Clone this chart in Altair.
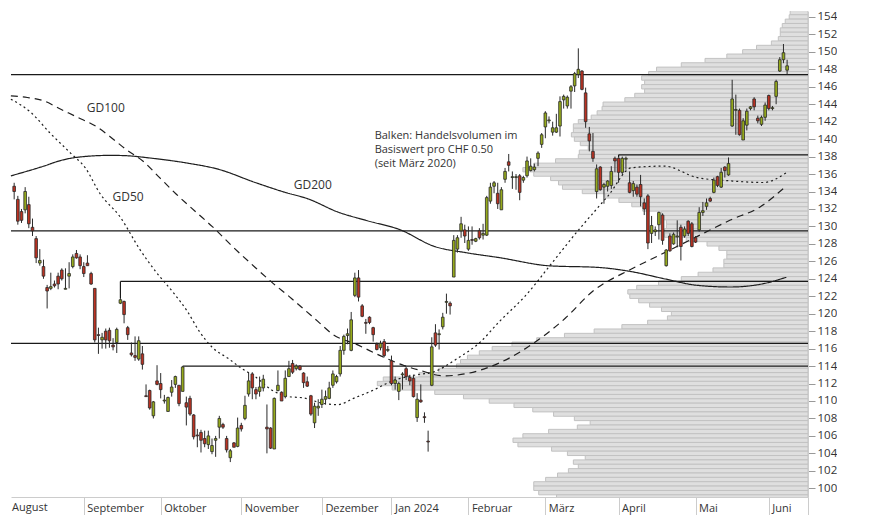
import altair as alt
import pandas as pd

# ---------------- candle data: one entry per trading day (7 Aug 2023 .. 10 Jun 2024)
opens = [
    134.6, 133.1, 131.7, 131.9, 132.5, 129.9, 128.6, 125.8, 125.4, 123.0,
    122.9, 123.4, 124.3, 125.0, 122.8, 124.3, 125.4, 126.9, 126.5, 125.4,
    125.8, 124.6, 122.9, 117.6, 117.0, 118.0, 118.1, 116.4, 116.7, 121.2,
    121.4, 118.4, 115.5, 115.2, 114.8, 115.4, 110.6, 111.2, 108.3, 112.3,
    112.0, 110.0, 108.8, 111.0, 111.9, 111.8, 111.1, 109.8, 110.3, 108.4,
    106.1, 106.4, 105.7, 105.0, 104.2, 105.5, 107.0, 107.3, 105.7, 103.5,
    105.2, 104.8, 107.2, 108.0, 110.8, 113.1, 111.3, 111.1, 111.5, 107.0,
    106.9, 104.5, 111.2, 111.0, 110.5, 112.8, 114.3, 113.7, 114.0, 113.2,
    112.2, 110.6, 107.5, 109.2, 109.6, 110.2, 110.3, 111.8, 112.2, 113.1,
    115.8, 117.5, 115.8, 122.1, 124.1, 120.9, 119.0, 119.6, 118.4, 116.5,
    116.1, 116.8, 115.8, 114.6, 112.0, 111.1, 113.0, 113.7, 112.7, 112.6,
    108.1, 110.1, 108.2, 105.4, 111.8, 117.8, 117.6, 118.5, 121.3, 121.2,
    124.2, 127.4, 129.5, 129.6, 127.4, 128.5, 128.3, 129.5, 129.0, 129.0,
    132.9, 134.6, 133.8, 131.9, 135.4, 137.4, 135.6, 135.6, 135.8, 135.3,
    135.8, 136.4, 136.5, 137.8, 139.4, 141.4, 142.1, 140.8, 140.8, 141.5,
    144.5, 143.8, 145.5, 146.1, 147.4, 147.8, 145.3, 140.6, 138.6, 134.0,
    136.8, 134.5, 134.6, 134.7, 137.8, 137.8, 136.2, 137.7, 135.0, 134.1,
    134.5, 134.8, 132.7, 133.5, 129.2, 129.4, 130.2, 131.3, 125.5, 128.9,
    128.0, 128.8, 129.9, 128.9, 130.6, 130.3, 128.7, 129.6, 131.6, 132.3,
    133.2, 133.9, 135.7, 134.5, 136.8, 135.9, 141.5, 143.3, 143.3, 139.9,
    141.6, 143.5, 144.6, 142.4, 141.7, 142.5, 145.0, 143.5, 144.9, 147.8,
    149.1, 147.9]
highs = [
    135.0, 133.5, 132.0, 134.5, 133.4, 130.9, 128.9, 127.4, 126.2, 123.3,
    124.7, 123.8, 124.7, 125.2, 125.2, 125.9, 126.8, 127.3, 126.8, 125.9,
    126.7, 124.8, 122.9, 118.4, 117.8, 118.3, 118.4, 117.2, 118.4, 121.8,
    121.5, 118.6, 116.7, 117.4, 117.4, 116.3, 111.9, 111.3, 110.0, 114.1,
    113.2, 110.7, 110.5, 112.4, 112.9, 111.8, 114.0, 110.5, 110.6, 108.5,
    106.8, 106.7, 106.6, 106.6, 105.7, 106.0, 108.3, 107.5, 106.0, 104.5,
    105.3, 108.1, 107.5, 110.6, 113.3, 113.3, 111.6, 112.8, 113.0, 109.6,
    107.0, 110.4, 113.5, 111.1, 113.5, 114.6, 114.7, 114.2, 114.1, 113.3,
    112.8, 110.7, 109.8, 110.2, 111.3, 111.2, 112.2, 113.5, 113.0, 116.3,
    117.6, 118.3, 120.2, 124.7, 125.0, 121.1, 119.4, 119.7, 118.5, 116.7,
    116.9, 117.1, 116.3, 115.2, 112.8, 112.2, 113.3, 113.9, 113.0, 113.0,
    110.9, 111.9, 108.7, 106.6, 117.3, 118.8, 118.2, 120.1, 122.3, 121.4,
    129.0, 129.0, 131.1, 130.2, 130.0, 130.0, 128.7, 129.8, 130.3, 133.5,
    135.0, 135.2, 135.0, 134.5, 136.7, 138.3, 136.3, 136.0, 136.0, 135.8,
    138.0, 137.8, 137.2, 138.6, 140.7, 143.2, 142.6, 142.0, 142.9, 144.9,
    145.1, 145.0, 146.2, 147.7, 150.4, 147.9, 145.9, 141.4, 140.7, 137.1,
    136.9, 135.0, 135.3, 136.9, 138.0, 137.9, 138.0, 138.0, 136.3, 135.2,
    134.8, 135.9, 133.2, 133.7, 131.2, 130.0, 131.7, 131.5, 127.4, 129.2,
    129.3, 130.7, 130.2, 130.0, 130.7, 130.5, 128.9, 132.2, 132.8, 133.2,
    133.4, 135.6, 135.8, 136.7, 136.9, 137.9, 146.8, 145.1, 143.5, 142.4,
    143.5, 143.8, 144.8, 142.7, 142.7, 144.2, 145.1, 143.8, 146.8, 149.4,
    150.9, 149.1]
lows = [
    133.1, 130.2, 130.4, 131.5, 129.8, 128.9, 125.8, 125.5, 124.0, 120.6,
    122.7, 123.0, 122.8, 123.8, 122.8, 122.9, 125.2, 126.3, 125.1, 124.2,
    125.5, 123.3, 116.7, 115.4, 116.0, 116.0, 116.1, 115.8, 115.5, 121.1,
    118.9, 117.0, 115.1, 114.6, 114.6, 113.6, 110.5, 109.0, 108.0, 111.8,
    110.3, 109.7, 108.8, 110.5, 111.5, 109.4, 111.1, 107.2, 108.3, 105.6,
    104.7, 104.1, 104.7, 104.5, 103.9, 103.6, 105.7, 106.8, 104.1, 103.0,
    104.7, 104.7, 106.5, 107.8, 110.5, 110.2, 110.2, 110.5, 111.1, 104.0,
    104.5, 104.5, 111.1, 110.0, 110.3, 112.8, 113.1, 113.5, 113.5, 111.5,
    111.6, 108.3, 106.9, 108.3, 109.2, 109.6, 110.2, 111.5, 112.0, 112.8,
    115.3, 116.5, 115.7, 121.9, 121.4, 119.6, 117.7, 118.8, 116.8, 115.8,
    115.8, 115.0, 115.6, 111.8, 111.3, 110.1, 111.3, 112.4, 111.8, 110.4,
    107.6, 109.8, 107.5, 104.2, 111.7, 116.2, 115.9, 118.2, 120.0, 119.9,
    124.2, 127.0, 128.7, 128.1, 127.2, 127.9, 128.2, 128.5, 128.5, 128.9,
    132.6, 133.8, 132.0, 131.9, 135.0, 136.3, 134.3, 134.2, 133.0, 135.0,
    135.6, 136.3, 136.3, 136.9, 139.0, 140.1, 141.8, 140.4, 140.7, 140.3,
    143.5, 143.5, 143.5, 145.4, 147.0, 145.6, 141.3, 138.6, 137.4, 133.2,
    134.1, 132.6, 134.0, 134.3, 136.2, 135.0, 136.0, 136.5, 133.8, 133.4,
    133.4, 132.3, 131.3, 127.4, 128.1, 128.9, 128.5, 127.9, 125.4, 127.1,
    127.9, 127.6, 126.1, 128.7, 128.9, 127.6, 128.1, 129.4, 131.2, 131.9,
    132.8, 133.8, 134.5, 134.4, 135.6, 135.8, 141.4, 140.5, 140.4, 139.9,
    141.0, 143.3, 143.3, 141.8, 141.5, 142.1, 143.3, 143.3, 144.0, 147.7,
    148.7, 147.4]
closes = [
    134.0, 130.6, 130.7, 134.0, 130.3, 129.5, 126.4, 126.1, 124.3, 122.6,
    123.1, 123.2, 123.4, 124.0, 122.9, 124.6, 126.5, 126.4, 125.5, 124.6,
    125.5, 123.4, 117.0, 117.5, 117.3, 117.0, 116.9, 116.2, 118.2, 121.6,
    119.9, 117.6, 115.3, 115.0, 116.9, 114.2, 110.5, 109.2, 109.9, 111.9,
    111.3, 110.1, 110.4, 111.6, 112.8, 109.7, 113.9, 109.3, 108.5, 105.9,
    106.0, 105.5, 105.1, 106.0, 104.9, 105.7, 108.0, 107.0, 104.4, 104.3,
    104.7, 106.9, 106.8, 109.5, 112.3, 111.5, 110.8, 111.6, 112.5, 106.8,
    104.6, 110.3, 111.8, 110.0, 112.6, 113.7, 113.3, 114.0, 113.6, 112.1,
    111.7, 108.5, 109.4, 109.4, 110.2, 110.5, 111.5, 113.1, 112.8, 115.8,
    117.4, 117.7, 119.3, 124.1, 121.9, 119.7, 118.9, 119.0, 117.6, 115.9,
    116.6, 115.2, 115.9, 112.0, 112.4, 112.0, 113.1, 112.8, 112.3, 110.5,
    110.2, 109.9, 108.1, 105.3, 116.2, 116.4, 117.7, 119.6, 121.4, 120.9,
    128.4, 128.7, 130.3, 128.9, 128.4, 128.4, 128.6, 128.7, 129.2, 133.3,
    134.5, 135.0, 132.6, 134.2, 136.3, 137.0, 135.7, 135.7, 133.9, 135.6,
    137.5, 136.9, 136.8, 138.4, 140.5, 143.0, 142.2, 141.3, 141.3, 144.3,
    144.9, 144.8, 146.0, 147.5, 148.0, 145.7, 142.0, 139.8, 137.8, 136.6,
    134.2, 134.8, 135.2, 136.3, 137.5, 136.2, 137.8, 137.8, 133.9, 134.9,
    133.7, 133.4, 132.0, 128.1, 130.1, 129.6, 131.6, 128.4, 127.3, 127.2,
    129.1, 128.9, 127.7, 129.7, 129.2, 127.7, 128.2, 131.6, 131.8, 132.7,
    132.9, 135.3, 134.7, 136.2, 136.4, 137.2, 144.6, 143.4, 140.5, 142.1,
    143.2, 143.7, 143.7, 142.1, 142.5, 143.9, 143.5, 143.6, 146.6, 149.1,
    149.9, 148.4]

# ---------------- month axis (trading-day index of first session of each month)
first_month = "August"
month_names = ["September", "Oktober", "November", "Dezember", "Jan 2024",
               "Februar", "März", "April", "Mai", "Juni"]
month_start = [19, 40, 62, 84, 103, 124, 145, 165, 186, 206]

# ---------------- horizontal support / resistance lines
levels = [147.4, 138.2, 129.5, 123.7, 116.6, 114.0]
level_from = [-1, 165, -1, 29, -1, 46]       # -1 = across the whole chart

# ---------------- moving averages (trading-day index, value)
gd50_i = [-0.9, 4.5, 9.9, 15.4, 19.4, 23.5, 28.9, 34.3, 38.8, 43.3, 47.3, 50.5,
          54.1, 58.6, 62.2, 65.8, 70.3, 74.8, 79.3, 83.8, 88.3, 92.8, 98.2, 102.7,
          109.1, 114.5, 120.8, 127.1, 132.5, 139.7, 146.9, 154.1, 159.5, 162.2,
          168.5, 177.5, 186.5, 195.5, 204.5, 210.8]
gd50_v = [144.58, 143.08, 140.65, 138.4, 136.72, 133.72, 131.1, 127.37, 124.74,
          122.49, 120.25, 118.0, 116.14, 114.82, 113.7, 112.77, 111.27, 110.52,
          110.33, 109.77, 109.58, 110.33, 111.27, 112.21, 112.95, 113.33, 114.82,
          116.7, 119.12, 122.12, 125.86, 129.61, 132.23, 133.54, 136.72, 136.91,
          135.59, 135.22, 135.03, 136.16]
gd100_i = [-0.9, 3.6, 8.1, 12.6, 17.2, 22.6, 26.2, 30.7, 35.2, 39.7, 44.2, 49.6,
           54.1, 59.5, 65.8, 70.3, 75.7, 79.3, 82.9, 87.0, 93.3, 100.9, 106.4,
           110.8, 117.2, 123.5, 132.5, 143.3, 150.5, 157.7, 168.5, 175.7, 186.5,
           195.5, 203.6, 210.4]
gd100_v = [144.95, 144.77, 144.38, 143.45, 142.52, 141.4, 140.28, 138.77, 137.47,
           135.59, 133.72, 131.66, 129.98, 127.74, 125.3, 123.62, 121.75, 120.44,
           119.12, 117.63, 116.51, 115.01, 114.07, 113.51, 112.88, 113.14, 114.37,
           117.07, 119.5, 122.49, 125.12, 126.61, 128.86, 130.73, 132.23, 134.5]
gd200_i = [-0.9, 8.1, 12.6, 17.2, 26.2, 30.7, 37.0, 46.9, 55.9, 65.8, 73.9, 80.2,
           88.3, 96.4, 105.4, 114.5, 123.5, 132.5, 146.0, 159.5, 168.5, 177.5,
           186.5, 195.5, 204.5, 210.8]
gd200_v = [135.79, 136.91, 137.54, 137.92, 138.14, 138.1, 137.84, 137.28, 136.53,
           135.03, 133.91, 133.16, 131.66, 130.65, 129.61, 127.74, 126.98, 126.42,
           125.49, 125.3, 124.82, 124.0, 123.25, 123.06, 123.44, 124.18]

# ---------------- volume profile (per CHF 0.50, from 154.50 down to 99.00)
prof_vol = [
    18, 19, 23, 26, 28, 28, 30, 37, 52, 66,
    82, 104, 128, 153, 161, 168, 165, 168, 165, 175,
    185, 207, 208, 213, 219, 232, 237, 237, 239, 236,
    230, 222, 231, 232, 255, 277, 288, 277, 260, 252,
    248, 228, 205, 191, 178, 167, 148, 147, 143, 143,
    145, 145, 123, 102, 90, 82, 82, 85, 85, 96,
    111, 128, 151, 173, 182, 180, 171, 160, 148, 138,
    142, 162, 188, 216, 246, 274, 299, 319, 332, 344,
    351, 355, 373, 393, 429, 435, 420, 377, 348, 322,
    297, 278, 257, 236, 220, 233, 262, 288, 298, 293,
    259, 243, 225, 237, 232, 242, 253, 265, 277, 277,
    272, 254]
prof_price = [round(154.5 - 0.5 * k, 1) for k in range(len(prof_vol))]
VOL_FULL = 805.0      # profile volume that would span the whole plot width

# ---------------- text
ma_labels = ["GD100", "GD50", "GD200"]
ma_label_i = [25.0, 31.1, 81.5]
ma_label_p = [143.62, 133.35, 134.7]
note_lines = ["Balken: Handelsvolumen im", "Basiswert pro CHF 0.50", "(seit März 2020)"]
note_i = 98.4
note_p = [140.31, 138.74, 137.17]

# ---------------- layout / style
X_DOM = [-0.865, 216.7]
Y_DOM = [99.0, 154.68]
W, H = 797, 486
FONT = "Open Sans"
GREEN, RED, INK = "#96aa1c", "#bb3222", "#2a2a2a"

n = min(len(opens), len(highs), len(lows), len(closes))
cdf = pd.DataFrame({"i": list(range(n)), "o": opens[:n], "h": highs[:n],
                    "l": lows[:n], "c": closes[:n]})
cdf["dir"] = ["up" if c >= o else "down" for o, c in zip(cdf["o"], cdf["c"])]

xs = alt.Scale(domain=X_DOM, nice=False, zero=False)
ys = alt.Scale(domain=Y_DOM, nice=False, zero=False)

label_expr = ""
for idx, name in zip(month_start, month_names):
    label_expr += f"datum.value == {idx} ? '{name}' : "
label_expr += "''"


def xaxis():
    return alt.Axis(values=month_start + [X_DOM[1]], labelExpr=label_expr, title="")


def yaxis():
    return alt.Axis(orient="right", values=list(range(100, 156, 2)), title="")


# volume profile: bars grow leftwards from the right edge of the plot
prof_df = pd.DataFrame({"price": prof_price, "vol": prof_vol})
span = X_DOM[1] - X_DOM[0]
profile = alt.Chart(prof_df).transform_calculate(
    lo="datum.price - 0.25", hi="datum.price + 0.25",
    xl=f"{X_DOM[1]} - datum.vol / {VOL_FULL} * {span}",
    xr=f"{X_DOM[1]}",
).mark_rect(fill="#dfdfdf", stroke="#c2c2c2", strokeWidth=1, clip=True).encode(
    x=alt.X("xl:Q", scale=xs, axis=xaxis()),
    x2="xr:Q",
    y=alt.Y("lo:Q", scale=ys, axis=yaxis()),
    y2="hi:Q",
)

# level lines + connectors
lev_df = pd.DataFrame({"level": levels,
                       "start": [X_DOM[0] if s < 0 else s for s in level_from],
                       "end": [X_DOM[1]] * len(levels)})
rules = alt.Chart(lev_df).mark_rule(color="#1a1a1a", strokeWidth=1.2).encode(
    x=alt.X("start:Q", scale=xs, axis=xaxis()),
    x2="end:Q",
    y=alt.Y("level:Q", scale=ys, axis=yaxis()),
)
con_df = pd.DataFrame([{"i": s, "level": lv, "hi": highs[s]}
                       for s, lv in zip(level_from, levels) if 0 <= s < n])
connectors = alt.Chart(con_df).mark_rule(color="#1a1a1a", strokeWidth=1.2).encode(
    x=alt.X("i:Q", scale=xs, axis=xaxis()),
    y=alt.Y("level:Q", scale=ys, axis=yaxis()),
    y2="hi:Q",
)

# moving averages
ma_df = pd.concat([
    pd.DataFrame({"name": "GD50", "i": gd50_i, "v": gd50_v}),
    pd.DataFrame({"name": "GD100", "i": gd100_i, "v": gd100_v}),
    pd.DataFrame({"name": "GD200", "i": gd200_i, "v": gd200_v}),
])
mas = alt.Chart(ma_df).mark_line(color="#1e1e1e", strokeWidth=1.2, interpolate="monotone").encode(
    x=alt.X("i:Q", scale=xs, axis=xaxis()),
    y=alt.Y("v:Q", scale=ys, axis=yaxis()),
    strokeDash=alt.StrokeDash("name:N", scale=alt.Scale(domain=["GD50", "GD100", "GD200"],
                                                        range=[[2, 3], [7, 5], [1, 0]]),
                              legend=None),
    detail="name:N",
)

# candles
wicks = alt.Chart(cdf).mark_rule(color=INK, strokeWidth=1).encode(
    x=alt.X("i:Q", scale=xs, axis=xaxis()),
    y=alt.Y("l:Q", scale=ys, axis=yaxis()),
    y2="h:Q",
)
bodies = alt.Chart(cdf).transform_calculate(
    x0="datum.i - 0.36", x1="datum.i + 0.36"
).mark_rect(stroke=INK, strokeWidth=0.8).encode(
    x=alt.X("x0:Q", scale=xs, axis=xaxis()),
    x2="x1:Q",
    y=alt.Y("o:Q", scale=ys, axis=yaxis()),
    y2="c:Q",
    color=alt.Color("dir:N", scale=alt.Scale(domain=["up", "down"], range=[GREEN, RED]),
                    legend=None),
)

# labels
lab_df = pd.DataFrame({"t": ma_labels, "i": ma_label_i, "p": ma_label_p})
ma_text = alt.Chart(lab_df).mark_text(font=FONT, fontSize=12, color="#333333",
                                      align="center", baseline="middle").encode(
    x=alt.X("i:Q", scale=xs, axis=xaxis()),
    y=alt.Y("p:Q", scale=ys, axis=yaxis()),
    text="t:N",
)
note_df = pd.DataFrame({"t": note_lines, "i": [note_i] * len(note_lines), "p": note_p})
note = alt.Chart(note_df).mark_text(font=FONT, fontSize=11, color="#333333",
                                    align="left", baseline="middle").encode(
    x=alt.X("i:Q", scale=xs, axis=xaxis()),
    y=alt.Y("p:Q", scale=ys, axis=yaxis()),
    text="t:N",
)
# label of the first (partial) month, sitting in the axis band below the plot
aug = alt.Chart(pd.DataFrame({"t": [first_month]})).mark_text(
    font=FONT, fontSize=11, color="#333333", align="left", baseline="middle"
).encode(x=alt.value(1), y=alt.value(H + 11), text="t:N")

chart = alt.layer(profile, rules, connectors, mas, wicks, bodies, ma_text, note, aug).properties(
    width=W, height=H,
    padding={"left": 0, "top": 2, "right": 0, "bottom": 0},
    background="white",
).configure(font=FONT).configure_view(strokeWidth=0).configure_axisX(
    tickSize=20, tickColor="#cccccc", domainColor="#cccccc", labelAlign="left",
    labelBaseline="middle", labelPadding=-9, labelOffset=3, labelFontSize=11,
    labelColor="#333333", labelFont=FONT, labelOverlap=False, labelFlush=False, grid=False,
).configure_axisY(
    tickSize=7, tickColor="#999999", labelPadding=2, labelFontSize=11.5,
    labelColor="#333333", labelFont=FONT, domainColor="#cccccc", grid=False,
)

chart.save("out.html", embed_options={"renderer": "svg", "actions": False})
